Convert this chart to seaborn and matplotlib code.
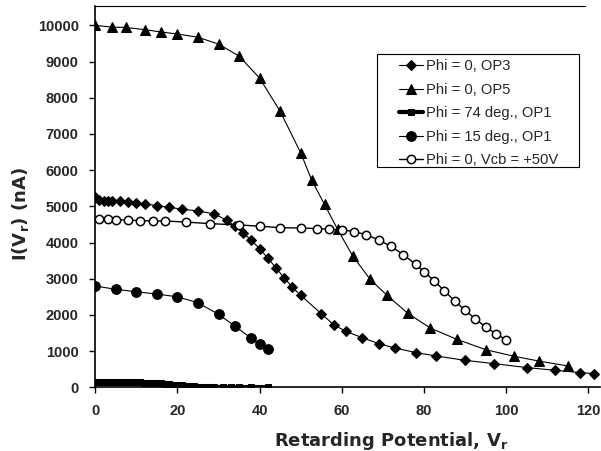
import matplotlib
matplotlib.use("Agg")
import matplotlib.pyplot as plt
from matplotlib.patches import Rectangle
import seaborn as sns
import pandas as pd

# ---- data ----
op3_x = [0, 1, 2, 3, 4, 6, 8, 10, 12, 15, 18, 21, 25, 29, 32, 34, 36, 38, 40, 42, 44, 46, 48, 50,
         55, 58, 61, 65, 69, 73, 78, 83, 90, 97, 105, 112, 118, 121.5]
op3_y = [5260, 5185, 5150, 5145, 5145, 5140, 5110, 5090, 5065, 5020, 4970, 4925, 4870, 4790, 4615,
         4450, 4260, 4060, 3830, 3570, 3295, 3020, 2760, 2540, 2035, 1730, 1545, 1370, 1205, 1085,
         960, 865, 745, 655, 545, 470, 405, 380]

op5_x = [0, 4, 7.5, 12, 16, 20, 25, 30, 35, 40, 45, 50, 52.7, 55.8, 59, 62.7, 66.9, 71, 76, 81.5,
         88, 95, 102, 108, 115]
op5_y = [10000, 9950, 9940, 9880, 9815, 9760, 9670, 9480, 9150, 8540, 7625, 6475, 5720, 5050, 4360,
         3620, 2985, 2540, 2050, 1640, 1325, 1040, 855, 725, 590]

p74_x = list(range(0, 30)) + [31, 33, 35, 38, 42]
p74_y = [160, 158, 156, 154, 152, 150, 148, 146, 143, 140, 137, 134, 131, 127, 123, 118, 108, 96,
         84, 72, 61, 51, 42, 34, 27, 21, 16, 12, 9, 7, 6, 5, 5, 5, 5]

p15_x = [0, 5, 10, 15, 20, 25, 30, 34, 38, 40, 42]
p15_y = [2800, 2705, 2640, 2575, 2500, 2335, 2015, 1690, 1350, 1195, 1045]

vcb_x = [1, 3, 5, 8, 11, 14, 17, 22, 28, 35, 40, 45, 50, 54, 57, 60, 63, 66, 69, 72, 75, 78, 80,
         82.5, 85, 87.5, 90, 92.5, 95, 97.5, 100]
vcb_y = [4640, 4640, 4630, 4620, 4605, 4595, 4595, 4565, 4520, 4485, 4450, 4410, 4400, 4385, 4365,
         4355, 4300, 4215, 4070, 3890, 3665, 3395, 3195, 2945, 2660, 2385, 2125, 1895, 1665, 1480,
         1315]

labels = ["Phi = 0, OP3", "Phi = 0, OP5", "Phi = 74 deg., OP1", "Phi = 15 deg., OP1",
          "Phi = 0, Vcb = +50V"]
x_ticks = [0, 20, 40, 60, 80, 100, 120]
y_ticks = [0, 1000, 2000, 3000, 4000, 5000, 6000, 7000, 8000, 9000, 10000]

# ---- style ----
sns.set_theme(style="white")
plt.rcParams["font.family"] = ["Liberation Sans", "DejaVu Sans"]
plt.rcParams["mathtext.fontset"] = "custom"
plt.rcParams["mathtext.rm"] = "DejaVu Sans:bold"
plt.rcParams["mathtext.it"] = "DejaVu Sans:bold"
plt.rcParams["mathtext.bf"] = "DejaVu Sans:bold"

W, H = 601, 451
fig = plt.figure(figsize=(W / 100, H / 100), dpi=100)
fig.patch.set_facecolor("white")
ax = fig.add_axes([95.3 / W, (H - 387.3) / H, (600 - 95.3) / W, (387.3 - 6) / H])
ax.set_facecolor("white")

series = [
    (op3_x, op3_y, labels[0], dict(marker="D", markersize=5.5, linewidth=0.8, markerfacecolor="black")),
    (op5_x, op5_y, labels[1], dict(marker="^", markersize=7.5, linewidth=0.8, markerfacecolor="black")),
    (p74_x, p74_y, labels[2], dict(marker="s", markersize=4, linewidth=3.0, markerfacecolor="black")),
    (p15_x, p15_y, labels[3], dict(marker="o", markersize=7, linewidth=0.8, markerfacecolor="black")),
    (vcb_x, vcb_y, labels[4], dict(marker="o", markersize=6, linewidth=1.0, markerfacecolor="white",
                                   markeredgewidth=1.1)),
]
for xs, ys, lab, kw in series:
    df = pd.DataFrame({"x": xs, "y": ys})
    sns.lineplot(data=df, x="x", y="y", ax=ax, color="black", label=lab, sort=False,
                 markeredgecolor="black", **kw)

ax.set_xlim(0, (600 - 95.3) / 4.108)
ax.set_ylim(0, (387.3 - 6) / 0.0362)
ax.set_xticks(x_ticks)
ax.set_yticks(y_ticks)
ax.set_xticklabels([str(t) for t in x_ticks], fontsize=10.5, fontweight="bold")
ax.set_yticklabels([str(t) for t in y_ticks], fontsize=10.5, fontweight="bold")
ax.tick_params(axis="both", direction="out", length=4, width=1, color="black", pad=8,
               bottom=True, left=True)

for side in ["left", "bottom", "top"]:
    ax.spines[side].set_visible(True)
    ax.spines[side].set_color("black")
ax.spines["left"].set_linewidth(1.2)
ax.spines["bottom"].set_linewidth(1.2)
ax.spines["top"].set_linewidth(0.8)
ax.spines["top"].set_bounds(0, (585 - 95.3) / 4.108)
ax.spines["right"].set_visible(False)

lab_font = dict(family=["DejaVu Sans"], size=13, weight="bold")
ax.set_xlabel(r"Retarding Potential, V$_r$", fontdict=lab_font, va="baseline")
ax.set_ylabel(r"I(V$_r$) (nA)", fontdict=lab_font)
ax.xaxis.set_label_coords((391 - 95.3) / (600 - 95.3), -(446 - 387.3) / (387.3 - 6))
ax.yaxis.set_label_coords(-(95.3 - 31) / (600 - 95.3), (387.3 - 214) / (387.3 - 6))

leg = ax.legend(loc="upper left", bbox_to_anchor=(399 / W, 1 - 59.5 / H),
                bbox_transform=fig.transFigure, borderaxespad=0, frameon=False,
                fontsize=10.6, handlelength=1.6, handletextpad=0.25, labelspacing=0.645,
                borderpad=0)
fig.add_artist(Rectangle((377 / W, 1 - 167 / H), (579 - 377) / W, (167 - 54) / H,
                         transform=fig.transFigure, fill=False, edgecolor="black",
                         linewidth=0.8))

fig.savefig("out.png", dpi=100, facecolor="white")
